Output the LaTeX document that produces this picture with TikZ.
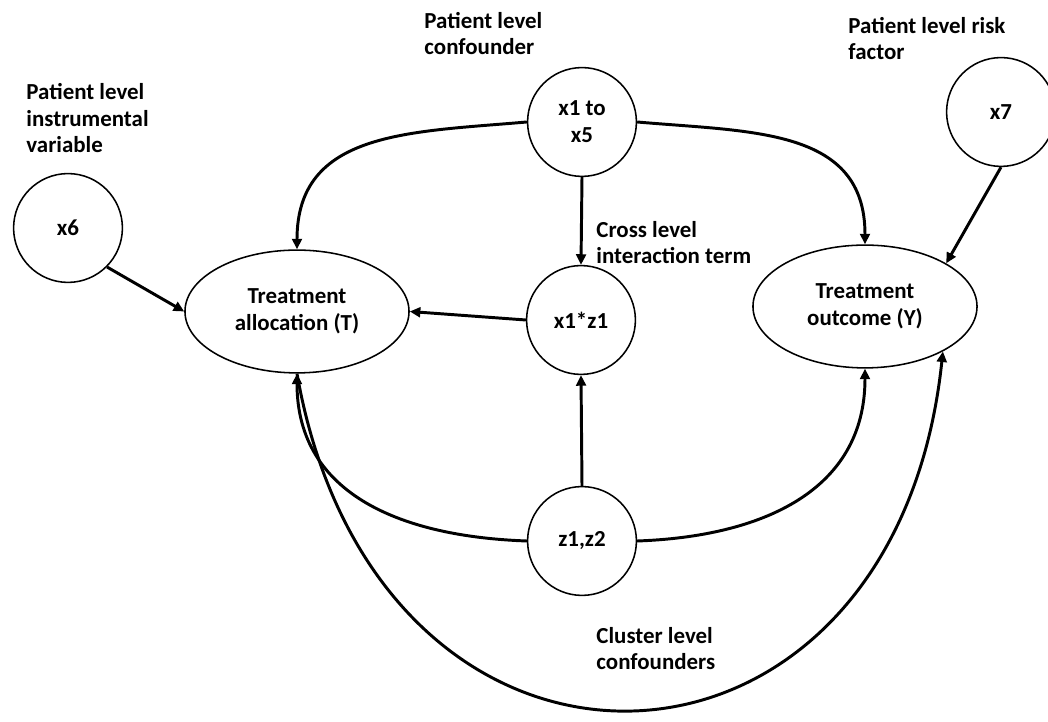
\documentclass[tikz,border=0pt]{standalone}
\usepackage{fontspec}
\setmainfont{Carlito}
\usetikzlibrary{arrows.meta,shapes.geometric}

\begin{document}
\begin{tikzpicture}[
  x=0.025cm, y=0.025cm,
  var/.style={draw, circle, line width=1.1pt, minimum size=2.72cm, inner sep=0pt, align=center},
  outc/.style={draw, ellipse, line width=1.1pt, minimum width=5.6cm, minimum height=3.07cm, inner sep=0pt, align=center},
  lbl/.style={anchor=base west, inner sep=0pt, align=left},
  every node/.style={font=\fontsize{16.3}{19}\selectfont\bfseries},
  >={Triangle[length=7.5pt,width=7pt]}, line width=2.1pt
]
  \useasboundingbox (0,0) rectangle (1048,722);

  \node[var]  (x6)   at (68,494)    {x6};
  \node[var]  (x15)  at (582,600)   {x1 to\\x5};
  \node[var]  (x7)   at (1001,610)  {x7};
  \node[var]  (x1z1) at (581,402)   {x1*z1};
  \node[var]  (z1z2) at (582,181)   {z1,z2};
  \node[outc] (T)    at (297,410.5) {Treatment\\allocation (T)};
  \node[outc] (Y)    at (865,415.5) {Treatment\\outcome (Y)};

  % base anchor sits on the last line
  \node[lbl] (lx6)  at (25,569)  {Patient level\\instrumental\\variable};
  \node[lbl] (lx15) at (423,667) {Patient level\\confounder};
  \node[lbl] (lx7)  at (847,662) {Patient level risk\\factor};
  \node[lbl] (lxz)  at (595,458) {Cross level\\interaction term};
  \node[lbl] (lz)   at (595,52)  {Cluster level\\confounders};

  \draw[->] (x6.-45) -- (T.west);
  \draw[->] (x1z1.west) -- (T.east);
  \draw[->] (x15.south) -- (x1z1.north);
  \draw[->] (z1z2.north) -- (x1z1.south);
  \draw[->] (x7.south) -- (Y.28);

  \draw[->] (x15.west) to[out=185,in=90,looseness=1.15] (T.north);
  \draw[->] (x15.east) to[out=-5,in=90,looseness=1.15] (Y.north);
  \draw[->] (z1z2.west) to[out=178,in=-90,looseness=1.1] (T.south);
  \draw[->] (z1z2.east) to[out=2,in=-90,looseness=1.1] (Y.south);
  \draw[->] (T.south) to[out=-80,in=-96,looseness=1.85] (Y.-30);
\end{tikzpicture}
\end{document}
